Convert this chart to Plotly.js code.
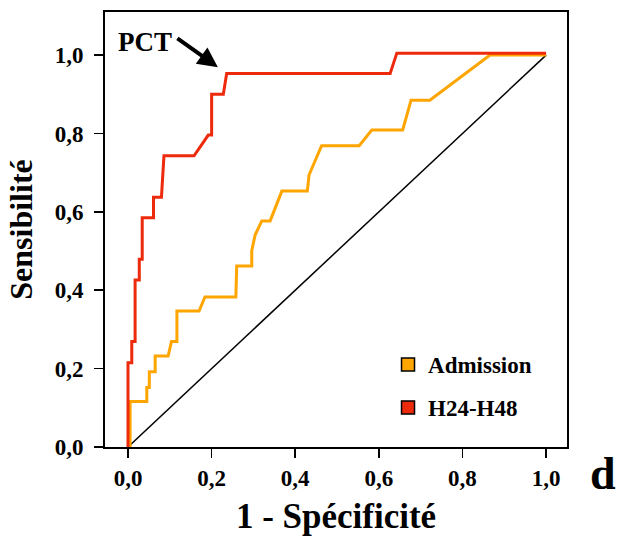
<!DOCTYPE html>
<html>
<head>
<meta charset="utf-8">
<script src="https://cdn.plot.ly/plotly-3.0.1.min.js"></script>
<style>
  html, body { margin: 0; padding: 0; background: #fff; }
  #roc { width: 633px; height: 544px; }
</style>
</head>
<body>
<div id="roc"></div>
<script>
// ROC curves: procalcitonin (PCT) at admission and at H24-H48
const seriesNames = ["Admission", "H24-H48"];

const admissionFpr = [0.005, 0.005, 0.045, 0.045, 0.051, 0.051, 0.065, 0.065, 0.096, 0.104,
  0.117, 0.117, 0.170, 0.184, 0.258, 0.260, 0.296, 0.296, 0.304, 0.320, 0.340, 0.368,
  0.429, 0.433, 0.463, 0.553, 0.583, 0.657, 0.677, 0.722, 0.866, 1.0];
const admissionTpr = [0, 0.116, 0.116, 0.152, 0.152, 0.192, 0.192, 0.232, 0.232, 0.269,
  0.269, 0.347, 0.347, 0.383, 0.383, 0.462, 0.462, 0.501, 0.541, 0.577, 0.577, 0.653,
  0.653, 0.694, 0.769, 0.769, 0.809, 0.809, 0.885, 0.885, 1.0, 1.0];

const h24Fpr = [0, 0, 0.009, 0.009, 0.017, 0.017, 0.027, 0.027, 0.034, 0.034, 0.061, 0.061,
  0.080, 0.083, 0.086, 0.158, 0.192, 0.200, 0.200, 0.228, 0.236, 0.627, 0.643, 1.0];
const h24Tpr = [0, 0.215, 0.215, 0.269, 0.269, 0.426, 0.426, 0.479, 0.479, 0.585, 0.585, 0.637,
  0.637, 0.690, 0.743, 0.743, 0.796, 0.796, 0.900, 0.900, 0.953, 0.953, 1.005, 1.005];

// chance line
const refX = [0, 1];
const refY = [0, 1];

const tickVals = [0, 0.2, 0.4, 0.6, 0.8, 1.0];
const tickText = ["0,0", "0,2", "0,4", "0,6", "0,8", "1,0"];

const ORANGE = "#FFA500";
const RED = "#EE2A0C";
const SERIF = "Liberation Serif, Times New Roman, serif";

const traces = [
  { x: refX, y: refY, mode: "lines", line: { color: "#000", width: 1.5 },
    showlegend: false, hoverinfo: "skip" },
  { x: admissionFpr, y: admissionTpr, mode: "lines", line: { color: ORANGE, width: 3 },
    name: seriesNames[0], legendgroup: "a", showlegend: false },
  { x: h24Fpr, y: h24Tpr, mode: "lines", line: { color: RED, width: 3 },
    name: seriesNames[1], legendgroup: "b", showlegend: false },
  // square swatches for the legend
  { x: [null], y: [null], mode: "markers", name: seriesNames[0], legendgroup: "a",
    marker: { symbol: "square", size: 13, color: ORANGE, line: { color: "#000", width: 1.5 } } },
  { x: [null], y: [null], mode: "markers", name: seriesNames[1], legendgroup: "b",
    marker: { symbol: "square", size: 13, color: RED, line: { color: "#000", width: 1.5 } } }
];

const axisCommon = {
  showgrid: false, zeroline: false, showline: true, mirror: true,
  linecolor: "#000", linewidth: 2, ticks: "outside", ticklen: 9, tickwidth: 1.5,
  tickcolor: "#000", tickvals: tickVals, ticktext: tickText,
  tickfont: { family: SERIF, size: 23, color: "#000", weight: "bold" }
};

const layout = {
  width: 633, height: 544,
  margin: { l: 105, r: 66, t: 12, b: 97 },
  paper_bgcolor: "#fff", plot_bgcolor: "#fff",
  xaxis: Object.assign({}, axisCommon, {
    range: [-0.055, 1.05],
    title: { text: "1 - Spécificité", standoff: 14,
      font: { family: SERIF, size: 35, color: "#000", weight: "bold" } }
  }),
  yaxis: Object.assign({}, axisCommon, {
    range: [0, 1.11],
    ticklabelstandoff: 6,
    title: { text: "Sensibilité", standoff: 12,
      font: { family: SERIF, size: 32, color: "#000", weight: "bold" } }
  }),
  showlegend: true,
  legend: {
    x: 0.6126, y: 0.239, xanchor: "left", yanchor: "top",
    bgcolor: "rgba(0,0,0,0)", borderwidth: 0,
    traceorder: "grouped", tracegroupgap: 10,
    font: { family: SERIF, size: 23, color: "#000", weight: "bold" }
  },
  annotations: [
    { x: 0.215, y: 0.969, xref: "x", yref: "y", text: "", showarrow: true,
      ax: -42, ay: -30, arrowhead: 2, arrowsize: 1, arrowwidth: 4, arrowcolor: "#000" },
    { x: (145 - 105) / 462, y: (447 - 42) / 435, xref: "paper", yref: "paper",
      xanchor: "center", yanchor: "middle", text: "PCT", showarrow: false,
      font: { family: SERIF, size: 27, color: "#000", weight: "bold" } },
    { x: (603 - 105) / 462, y: (447 - 473) / 435, xref: "paper", yref: "paper",
      xanchor: "center", yanchor: "middle", text: "d", showarrow: false,
      font: { family: SERIF, size: 46, color: "#000", weight: "bold" } }
  ]
};

Plotly.newPlot("roc", traces, layout, { displayModeBar: false, staticPlot: true });
</script>
</body>
</html>
